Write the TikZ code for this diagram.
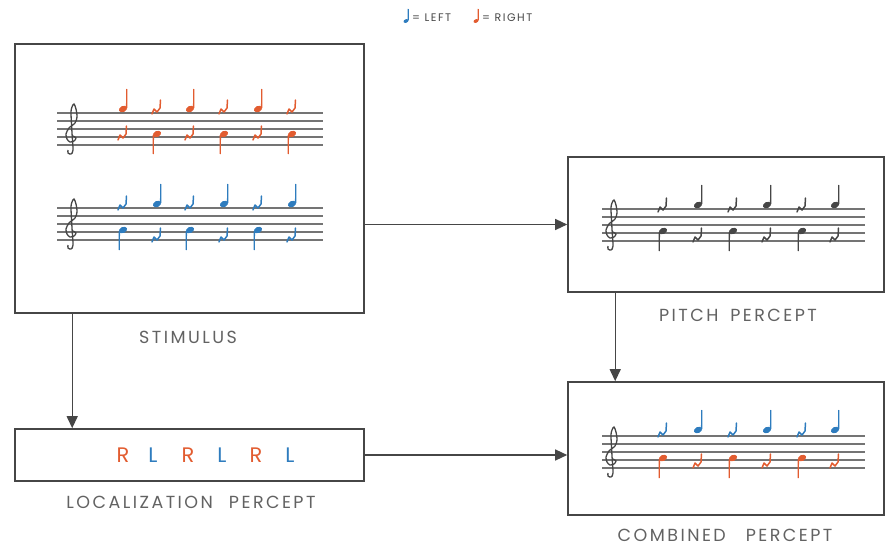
\documentclass[tikz,border=0pt]{standalone}
\usepackage{fontspec}
\setmainfont{Poppins}[LetterSpace=14]
\usetikzlibrary{arrows.meta}

\definecolor{earred}{RGB}{226,92,48}
\definecolor{earblue}{RGB}{46,124,190}
\definecolor{ink}{RGB}{70,70,70}

\tikzset{
  box/.style={draw=ink, line width=1.6pt, inner sep=0pt},
  link/.style={draw=ink, line width=1.3pt, -{Triangle[length=12pt,width=11pt]}},
  staffline/.style={draw=ink!75, line width=1.1pt},
  caption/.style={text=ink!85, font=\fontsize{17.5}{20}\selectfont, inner sep=1pt},
  legtext/.style={text=ink, font=\fontsize{11}{12}\selectfont, anchor=west, inner sep=1pt},
  hinote/.pic={
    \fill (0,0) ellipse [x radius=4.3pt, y radius=3pt, rotate=25];
    \draw[line width=1.3pt] (3.6,-1) -- (3.8,-20);
  },
  lonote/.pic={
    \fill (0,0) ellipse [x radius=4.3pt, y radius=3pt, rotate=25];
    \draw[line width=1.3pt] (-3.6,1) -- (-3.8,20);
  },
  qrest/.pic={
    \draw[line width=1.5pt, line join=round, line cap=round]
      (-5,6) -- (-3,1) -- (0,4) -- (3,0) -- (3.5,-8);
  },
  gclef/.pic={
    \draw[line width=1.3pt, draw=ink] plot[smooth] coordinates {
      (1,23) (4,25) (2,28) (-2,29) (-5,26) (-6,21) (-3,15) (3,10) (5,4)
      (4,-4) (2,-9) (0,-6) (-1,0) (0,20) (1,37) (-1,41) (-4,40) (-4,37)};
  }
}

\begin{document}
\begin{tikzpicture}[x=1pt, y=-1pt]
  \useasboundingbox (0,0) rectangle (889,546);

  % legend
  \pic[earblue, scale=0.6] (legl) at (406,21) {hinote};
  \node[legtext] (leftlab) at (411,18) {= LEFT};
  \pic[earred, scale=0.6] (legr) at (476,21) {hinote};
  \node[legtext] (rightlab) at (481,18) {= RIGHT};

  % boxes
  \node[box, minimum width=349pt, minimum height=269pt] (stim) at (189.5,178.5) {};
  \node[box, minimum width=349pt, minimum height=52pt] (local) at (189.5,455) {};
  \node[box, minimum width=316pt, minimum height=135pt] (pitch) at (726,224.5) {};
  \node[box, minimum width=316pt, minimum height=133pt] (comb) at (726,448.5) {};

  % captions
  \node[caption] (stimlab) at (188,337) {STIMULUS};
  \node[caption] (loclab) at (191,502) {LOCALIZATION\hspace{16pt}PERCEPT};
  \node[caption] (pitchlab) at (738,315) {PITCH\hspace{12pt}PERCEPT};
  \node[caption] (comblab) at (725,535) {COMBINED\hspace{20pt}PERCEPT};

  % staves
  \foreach \T in {113,208} {
    \foreach \k in {0,...,4} {
      \draw[staffline] (57,\T+8*\k) -- (323,\T+8*\k);
    }
    \pic at (72,\T) {gclef};
  }
  \foreach \T in {209,436} {
    \foreach \k in {0,...,4} {
      \draw[staffline] (602,\T+8*\k) -- (865,\T+8*\k);
    }
    \pic at (612,\T) {gclef};
  }

  % stimulus, right ear
  \foreach \x in {123,190,258} {
    \pic[earred] at (\x,109) {hinote};
    \pic[earred] at (\x,134) {qrest};
  }
  \foreach \x in {157,224,292} {
    \pic[earred] at (\x,108) {qrest};
    \pic[earred] at (\x,134) {lonote};
  }

  % stimulus, left ear
  \foreach \x in {123,190,258} {
    \pic[earblue] at (\x,204) {qrest};
    \pic[earblue] at (\x,230) {lonote};
  }
  \foreach \x in {157,224,292} {
    \pic[earblue] at (\x,204) {hinote};
    \pic[earblue] at (\x,236) {qrest};
  }

  % pitch percept
  \foreach \x in {663,733,802} {
    \pic[ink] at (\x,206) {qrest};
    \pic[ink] at (\x,231) {lonote};
  }
  \foreach \x in {698,767,835} {
    \pic[ink] at (\x,205) {hinote};
    \pic[ink] at (\x,236) {qrest};
  }

  % combined percept
  \foreach \x in {663,733,802} {
    \pic[earblue] at (\x,431) {qrest};
    \pic[earred] at (\x,458) {lonote};
  }
  \foreach \x in {698,767,835} {
    \pic[earblue] at (\x,430) {hinote};
    \pic[earred] at (\x,462) {qrest};
  }

  % localization letters
  \foreach \x/\c/\t [count=\i] in {123/earred/R, 153/earblue/L, 188/earred/R,
                                   222/earblue/L, 256/earred/R, 290/earblue/L} {
    \node[text=\c, font=\fontsize{21}{24}\selectfont] (lr\i) at (\x,455) {\t};
  }

  % connectors
  \draw[link] (stim.east |- pitch.west) -- (pitch.west);
  \draw[link] (local.east) -- (local.east -| comb.west);
  \draw[link] ([xshift=58pt]stim.south west) -- ([xshift=58pt]local.north west);
  \draw[link] ([xshift=48pt]pitch.south west) -- ([xshift=48pt]comb.north west);
\end{tikzpicture}
\end{document}
